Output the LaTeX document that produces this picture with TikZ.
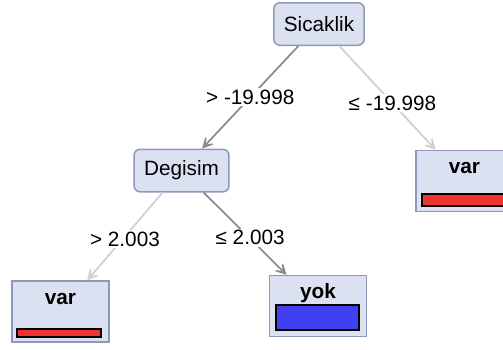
\documentclass[tikz,border=0pt]{standalone}
\usepackage{fontspec}
\setmainfont{Liberation Sans}
\usetikzlibrary{arrows.meta}

\definecolor{boxfill}{HTML}{DCE1F2}
\definecolor{boxdraw}{HTML}{8C99B8}
\definecolor{bardark}{HTML}{8C8C8C}
\definecolor{barlight}{HTML}{D0D0D0}
\definecolor{leafred}{HTML}{F03232}
\definecolor{leafblue}{HTML}{4040F0}

\begin{document}
\begin{tikzpicture}[x=0.02cm,y=-0.02cm,font=\fontsize{11.8}{14}\selectfont]
\clip (0,0) rectangle (503,349);
\fill[white] (0,0) rectangle (503,349);

\begin{scope}[every node/.style={rectangle,rounded corners=0.12cm,draw=boxdraw,fill=boxfill,
              line width=0.03cm,inner xsep=0.2cm,minimum height=0.85cm}]
    \node (Sic) at (319,24) {Sicaklik};
    \node (Deg) at (181.5,170.5) {Degisim};
\end{scope}

\begin{scope}[every node/.style={rectangle,draw=boxdraw,fill=boxfill,line width=0.03cm,
              inner sep=0pt,minimum width=1.94cm,text height=0.46cm,text depth=0.76cm,
              font=\fontsize{11.8}{14}\selectfont\bfseries}]
    \node (VarR) at (464.5,181) {var};
    \node (VarL) at (60.5,311.5) {var};
    \node (Yok) at (318,306) {yok};
\end{scope}

\begin{scope}[every node/.style={rectangle,draw=black,line width=0.03cm,inner sep=0pt}]
    \node[fill=leafred,minimum width=1.68cm,minimum height=0.24cm] (BarR) at (464,200) {};
    \node[fill=leafred,minimum width=1.68cm,minimum height=0.16cm] (BarL) at (59,333) {};
    \node[fill=leafblue,minimum width=1.66cm,minimum height=0.5cm] (BarY) at (317.5,317.5) {};
\end{scope}

\begin{scope}[>={Stealth[length=0.34cm,width=0.36cm,inset=0.23cm]},
              every node/.style={fill=white,text=black,inner sep=1pt},
              every edge/.style={draw,line width=0.035cm}]
    \path [->] (Sic) edge[bardark] node {> -19.998} (Deg);
    \path [->] (Sic) edge[barlight] node[xshift=0.1cm,yshift=-0.1cm] {≤ -19.998} (VarR);
    \path [->] (Deg) edge[barlight] node[yshift=-0.06cm] {> 2.003} (VarL);
    \path [->] (Deg) edge[bardark] node[xshift=0.1cm,yshift=-0.08cm] {≤ 2.003} (Yok);
\end{scope}
\end{tikzpicture}
\end{document}
